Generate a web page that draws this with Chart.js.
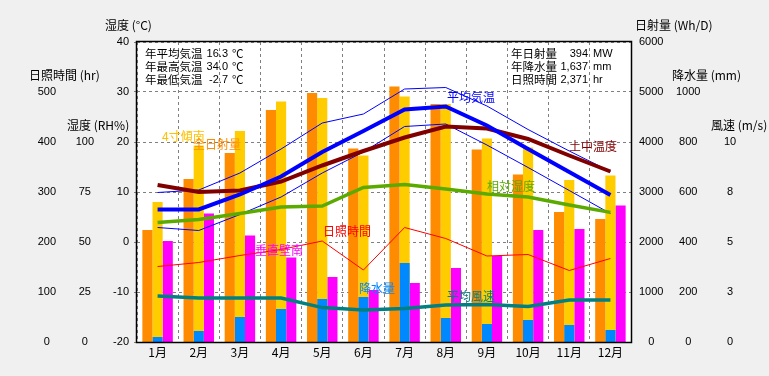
<!DOCTYPE html>
<html>
<head>
<meta charset="utf-8">
<script src="https://cdn.jsdelivr.net/npm/chart.js@4/dist/chart.umd.min.js"></script>
<style>
html, body { margin: 0; padding: 0; background: #f0f0f0; }
</style>
</head>
<body>
<canvas id="climateChart" width="769" height="376"></canvas>
<script>
// --- data ---
var months = ['1月', '2月', '3月', '4月', '5月', '6月', '7月', '8月', '9月', '10月', '11月', '12月'];

// Wh/D
var solarTotal = [2240, 3260, 3780, 4640, 4980, 3870, 5110, 4760, 3850, 3350, 2600, 2460];
var solarSlope4 = [2800, 3930, 4220, 4810, 4880, 3730, 4910, 4760, 4070, 3890, 3240, 3330];
var solarWallSouth = [2020, 2570, 2130, 1690, 1300, 1040, 1180, 1480, 1720, 2240, 2260, 2730];
// mm
var precipitation = [20, 44, 100, 132, 172, 180, 316, 96, 72, 88, 68, 48];
// deg C
var tempAvg = [6.5, 6.5, 9.5, 13.1, 18.0, 22.2, 26.5, 27.1, 23.3, 18.6, 14.0, 9.4];
var tempMax = [9.9, 10.4, 13.8, 18.6, 23.8, 25.6, 30.6, 30.9, 27.2, 22.5, 18.2, 14.1];
var tempMin = [2.9, 2.3, 5.5, 9.0, 13.8, 18.0, 23.1, 23.6, 19.4, 14.9, 10.3, 5.7];
var soilTemp = [11.4, 10.0, 10.3, 12.1, 15.3, 18.2, 20.9, 23.1, 22.7, 20.6, 17.3, 14.1];
// RH %
var humidity = [59.8, 61.3, 64.2, 67.5, 68.0, 77.3, 78.8, 76.5, 74.0, 72.5, 68.5, 64.8];
// hr
var sunshine = [151, 159, 173, 185, 202, 144, 229, 207, 172, 175, 143, 167];
// m/s
var windSpeed = [2.3, 2.2, 2.2, 2.2, 1.72, 1.6, 1.68, 1.85, 1.88, 1.77, 2.1, 2.1];

var summaryLeft = [['年平均気温', '16.3', '℃'], ['年最高気温', '34.0', '℃'], ['年最低気温', '-2.7', '℃']];
var summaryRight = [['年日射量', '394', 'MW'], ['年降水量', '1,637', 'mm'], ['日照時間', '2,371', 'hr']];

var FONT = "'Liberation Sans', 'Noto Sans CJK JP', sans-serif";
var JP_FONT = "12px 'Noto Sans CJK JP', 'Liberation Sans', sans-serif";
var JP_SMALL = "11.5px 'Noto Sans CJK JP', 'Liberation Sans', sans-serif";
var NUM_FONT = "11px 'Liberation Sans', 'Noto Sans CJK JP', sans-serif";

Chart.defaults.font.family = FONT;
Chart.defaults.font.size = 11;
Chart.defaults.color = '#000';

function fixWidth(w) {
    return function (scale) { scale.width = w; };
}

function upTo(limit) {
    return function (v) { return v <= limit ? String(Math.round(v)) : null; };
}

// axis captions and series names, drawn as text on the canvas
var captions = [
    {text: '湿度 (°C)', x: 105, y: 25, color: '#000'},
    {text: '日照時間 (hr)', x: 29, y: 75, color: '#000'},
    {text: '湿度 (RH%)', x: 67, y: 125, color: '#000'},
    {text: '日射量 (Wh/D)', x: 635, y: 25, color: '#000'},
    {text: '降水量 (mm)', x: 672, y: 75, color: '#000'},
    {text: '風速 (m/s)', x: 711, y: 125, color: '#000'},
    {text: '4寸傾南', x: 162, y: 136, color: '#ffc000'},
    {text: '全日射量', x: 193, y: 144, color: '#ff8c00'},
    {text: '平均気温', x: 447, y: 97, color: '#0000ff'},
    {text: '土中温度', x: 569, y: 146, color: '#800000'},
    {text: '相対湿度', x: 487, y: 186, color: '#5aaa00'},
    {text: '日照時間', x: 323, y: 231, color: '#ff0000'},
    {text: '垂直壁南', x: 255, y: 250, color: '#ff00ff'},
    {text: '降水量', x: 359, y: 288, color: '#0088ff'},
    {text: '平均風速', x: 447, y: 296, color: '#008080'}
];

var decorPlugin = {
    id: 'decor',
    beforeDraw: function (chart) {
        var ctx = chart.ctx, a = chart.chartArea;
        ctx.save();
        ctx.fillStyle = '#f0f0f0';
        ctx.fillRect(0, 0, chart.width, chart.height);
        ctx.fillStyle = '#ffffff';
        ctx.fillRect(a.left, a.top, a.right - a.left, a.bottom - a.top);
        ctx.restore();
    },
    afterDraw: function (chart) {
        var ctx = chart.ctx, a = chart.chartArea;
        ctx.save();
        ctx.strokeStyle = '#000';
        ctx.lineWidth = 1.5;
        ctx.strokeRect(a.left - 0.5, a.top - 0.5, a.right - a.left + 1, a.bottom - a.top + 1);

        ctx.textBaseline = 'middle';
        ctx.font = JP_FONT;
        captions.forEach(function (c) {
            ctx.fillStyle = c.color;
            ctx.textAlign = 'left';
            ctx.fillText(c.text, c.x, c.y);
        });

        ctx.fillStyle = '#000';
        summaryLeft.forEach(function (row, i) {
            var y = 54 + i * 13;
            ctx.font = JP_SMALL;
            ctx.textAlign = 'left';
            ctx.fillText(row[0], 145, y);
            ctx.font = NUM_FONT;
            ctx.textAlign = 'right';
            ctx.fillText(row[1], 228, y);
            ctx.font = JP_SMALL;
            ctx.textAlign = 'left';
            ctx.fillText(row[2], 232, y);
        });
        summaryRight.forEach(function (row, i) {
            var y = 54 + i * 13;
            ctx.font = JP_SMALL;
            ctx.textAlign = 'left';
            ctx.fillText(row[0], 511, y);
            ctx.font = NUM_FONT;
            ctx.textAlign = 'right';
            ctx.fillText(row[1], 588, y);
            ctx.textAlign = 'left';
            ctx.fillText(row[2], 593, y);
        });
        ctx.restore();
    }
};

function lineSet(label, data, color, width, axis) {
    return {
        type: 'line', label: label, data: data, yAxisID: axis,
        borderColor: color, backgroundColor: color, borderWidth: width,
        pointRadius: 0, tension: 0, fill: false, order: 0
    };
}

var ctx = document.getElementById('climateChart').getContext('2d');
new Chart(ctx, {
    type: 'bar',
    data: {
        labels: months,
        datasets: [
            {label: '全日射量', data: solarTotal, yAxisID: 'ySol', stack: 'a', order: 1, backgroundColor: '#ff8c00'},
            {label: '降水量', data: precipitation, yAxisID: 'yPre', stack: 'b', order: 2, backgroundColor: '#0088ff'},
            {label: '4寸傾南', data: solarSlope4, yAxisID: 'ySol', stack: 'b', order: 3, backgroundColor: '#ffcc00'},
            {label: '垂直壁南', data: solarWallSouth, yAxisID: 'ySol', stack: 'c', order: 4, backgroundColor: '#ff00ff'},
            lineSet('平均気温', tempAvg, '#0000ff', 4, 'yTemp'),
            lineSet('土中温度', soilTemp, '#800000', 4, 'yTemp'),
            lineSet('相対湿度', humidity, '#5aaa00', 3.5, 'yHum'),
            lineSet('平均風速', windSpeed, '#008080', 3.5, 'yWind'),
            lineSet('最高気温', tempMax, '#0000ff', 1, 'yTemp'),
            lineSet('最低気温', tempMin, '#0000ff', 1, 'yTemp'),
            lineSet('日照時間', sunshine, '#ff0000', 1, 'yHr')
        ]
    },
    options: {
        responsive: false,
        animation: false,
        devicePixelRatio: 1,
        layout: {padding: {top: 42, left: 0, right: 17, bottom: 0}},
        plugins: {legend: {display: false}, tooltip: {enabled: false}},
        datasets: {bar: {barPercentage: 1, categoryPercentage: 0.74, borderWidth: 0}},
        scales: {
            x: {
                offset: true,
                grid: {offset: true, color: '#808080', drawTicks: false},
                border: {display: false, dash: [3, 3]},
                ticks: {padding: 3, maxRotation: 0, autoSkip: false, font: {size: 12, family: "'Noto Sans CJK JP', sans-serif"}},
                afterFit: function (s) { s.height = 34; }
            },
            yTemp: {
                position: 'left', min: -20, max: 40,
                ticks: {stepSize: 10, padding: 5, callback: upTo(40)},
                grid: {color: '#808080', tickLength: 3, tickColor: '#808080'},
                border: {display: false, dash: [3, 3]},
                afterFit: fixWidth(34)
            },
            yHum: {
                position: 'left', min: 0, max: 150,
                ticks: {stepSize: 25, padding: 9, crossAlign: 'center', callback: upTo(100)},
                grid: {display: false, drawTicks: false},
                border: {display: false},
                afterFit: fixWidth(43)
            },
            yHr: {
                position: 'left', min: 0, max: 600,
                ticks: {stepSize: 100, padding: 4, crossAlign: 'center', callback: upTo(500)},
                grid: {display: false, drawTicks: false},
                border: {display: false},
                afterFit: fixWidth(60)
            },
            ySol: {
                position: 'right', min: 0, max: 6000,
                ticks: {stepSize: 1000, padding: 8, crossAlign: 'center', callback: upTo(6000)},
                grid: {display: false, drawTicks: false},
                border: {display: false},
                afterFit: fixWidth(37)
            },
            yPre: {
                position: 'right', min: 0, max: 1200,
                ticks: {stepSize: 200, padding: 8, crossAlign: 'center', callback: upTo(1000)},
                grid: {display: false, drawTicks: false},
                border: {display: false},
                afterFit: fixWidth(44)
            },
            yWind: {
                position: 'right', min: 0, max: 15,
                ticks: {stepSize: 2.5, padding: 12, crossAlign: 'center', callback: upTo(10)},
                grid: {display: false, drawTicks: false},
                border: {display: false},
                afterFit: fixWidth(40)
            }
        }
    },
    plugins: [decorPlugin]
});
</script>
</body>
</html>
